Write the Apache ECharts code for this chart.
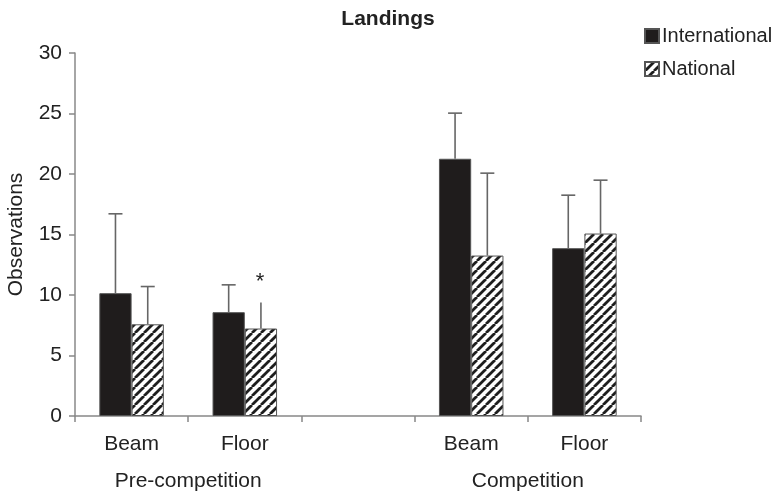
<!DOCTYPE html>
<html>
<head>
<meta charset="utf-8">
<script src="https://cdn.jsdelivr.net/npm/echarts@6/dist/echarts.min.js"></script>
<style>html,body{margin:0;padding:0;background:#fff}#c{width:781px;height:494px}</style>
</head>
<body>
<div id="c"></div>
<script>
const categories = ['Beam', 'Floor', '', 'Beam', 'Floor'];
const groupLabels = ['', 'Pre-competition', '', '', 'Competition', ''];
const seriesNames = ['International', 'National'];
const yTicks = [0, 5, 10, 15, 20, 25, 30];
const international = [10.15, 8.58, null, 21.26, 13.87];
const internationalUpper = [16.71, 10.84, null, 25.03, 18.25];
const national = [7.58, 7.23, null, 13.26, 15.08];
const nationalUpper = [10.70, 9.38, null, 20.07, 19.49];
const nationalMarks = ['', '*', '', '', ''];

function hatch() {
  const c = document.createElement('canvas');
  c.width = 9; c.height = 9;
  const g = c.getContext('2d');
  g.fillStyle = '#ffffff'; g.fillRect(0, 0, 9, 9);
  g.strokeStyle = '#1e1e1e'; g.lineWidth = 2.8;
  g.beginPath();
  [-9, 0, 9].forEach(k => { g.moveTo(k, 9); g.lineTo(k + 9, 0); });
  g.stroke();
  return c;
}

const GAP = 0.43;
function errData(means, uppers, marks) {
  const out = [];
  means.forEach((m, i) => {
    if (m == null) return;
    out.push([i, m, uppers[i], marks ? marks[i] : '']);
  });
  return out;
}
function makeErr(side) {
  return function (params, api) {
    const idx = api.value(0);
    const p0 = api.coord([idx, api.value(1)]);
    const p1 = api.coord([idx, api.value(2)]);
    const band = api.size([1, 0])[0];
    const bw = band * (1 - GAP) / 2;
    const x = p0[0] + side * bw / 2;
    const mark = errMarks[side > 0 ? 1 : 0][params.dataIndex] || '';
    const style = { stroke: '#666', lineWidth: 1.6 };
    const children = [
      { type: 'line', shape: { x1: x, y1: p0[1], x2: x, y2: p1[1] }, style }
    ];
    if (!mark) {
      children.push({ type: 'line', shape: { x1: x - 7, y1: p1[1], x2: x + 7, y2: p1[1] }, style });
    } else {
      children.push({ type: 'text', style: { text: mark, x: x - 1, y: p1[1] - 21, fill: '#222', font: '22px "Liberation Sans", Arial, sans-serif', align: 'center', verticalAlign: 'middle' } });
    }
    return { type: 'group', children };
  };
}
const intErr = errData(international, internationalUpper, null);
const natErr = errData(national, nationalUpper, nationalMarks);
const errMarks = [intErr.map(d => d[3]), natErr.map(d => d[3])];

const font = '"Liberation Sans", Arial, Helvetica, sans-serif';
const chart = echarts.init(document.getElementById('c'));
chart.setOption({
  animation: false,
  backgroundColor: '#fff',
  textStyle: { fontFamily: font, color: '#222' },
  title: {
    text: 'Landings', left: 383, top: 4, textAlign: 'center',
    textStyle: { fontFamily: font, fontSize: 21, fontWeight: 'bold', color: '#222' }
  },
  legend: {
    data: seriesNames, orient: 'vertical', left: 639, top: 21,
    itemWidth: 14, itemHeight: 14, itemGap: 13,
    icon: 'rect',
    textStyle: { fontFamily: font, fontSize: 20, color: '#222', padding: [0, 0, 0, -2] }
  },
  grid: { left: 75, right: 140, top: 53, bottom: 78, outerBoundsMode: 'none', containLabel: false },
  xAxis: [{
    type: 'category', data: categories,
    axisLine: { lineStyle: { color: '#888', width: 1.5 } },
    axisTick: { show: true, length: 6, lineStyle: { color: '#888', width: 1.5 } },
    axisLabel: { interval: 0, margin: 18, fontSize: 21, color: '#222', fontFamily: font }
  }, {
    type: 'category', data: groupLabels, boundaryGap: false, position: 'bottom',
    axisLine: { show: false }, axisTick: { show: false }, splitLine: { show: false },
    axisLabel: { interval: 0, margin: 55, fontSize: 21, color: '#222', fontFamily: font }
  }],
  yAxis: {
    type: 'value', min: yTicks[0], max: yTicks[yTicks.length - 1], interval: 5,
    name: 'Observations', nameLocation: 'middle', nameGap: 48,
    nameTextStyle: { fontSize: 21, color: '#222', fontFamily: font },
    axisLine: { show: true, lineStyle: { color: '#888', width: 1.5 } },
    axisTick: { show: true, length: 6, lineStyle: { color: '#888', width: 1.5 } },
    splitLine: { show: false },
    axisLabel: { margin: 13, fontSize: 21, color: '#222', fontFamily: font }
  },
  series: [{
    name: seriesNames[0], type: 'bar', xAxisIndex: 0,
    data: international.map(v => v == null ? '-' : v),
    barGap: '0%', barCategoryGap: (GAP * 100) + '%',
    itemStyle: { color: '#1f1c1c', borderColor: '#555', borderWidth: 1 }
  }, {
    name: seriesNames[1], type: 'bar', xAxisIndex: 0,
    data: national.map(v => v == null ? '-' : v),
    barGap: '0%', barCategoryGap: (GAP * 100) + '%',
    itemStyle: { color: { image: hatch(), repeat: 'repeat' }, borderColor: '#555', borderWidth: 1 }
  }, {
    type: 'custom', name: 'intErr', xAxisIndex: 0, renderItem: makeErr(-1),
    data: intErr, encode: { x: 0, y: [1, 2] }, z: 3, silent: true
  }, {
    type: 'custom', name: 'natErr', xAxisIndex: 0, renderItem: makeErr(1),
    data: natErr, encode: { x: 0, y: [1, 2] }, z: 3, silent: true
  }]
});
</script>
</body>
</html>
